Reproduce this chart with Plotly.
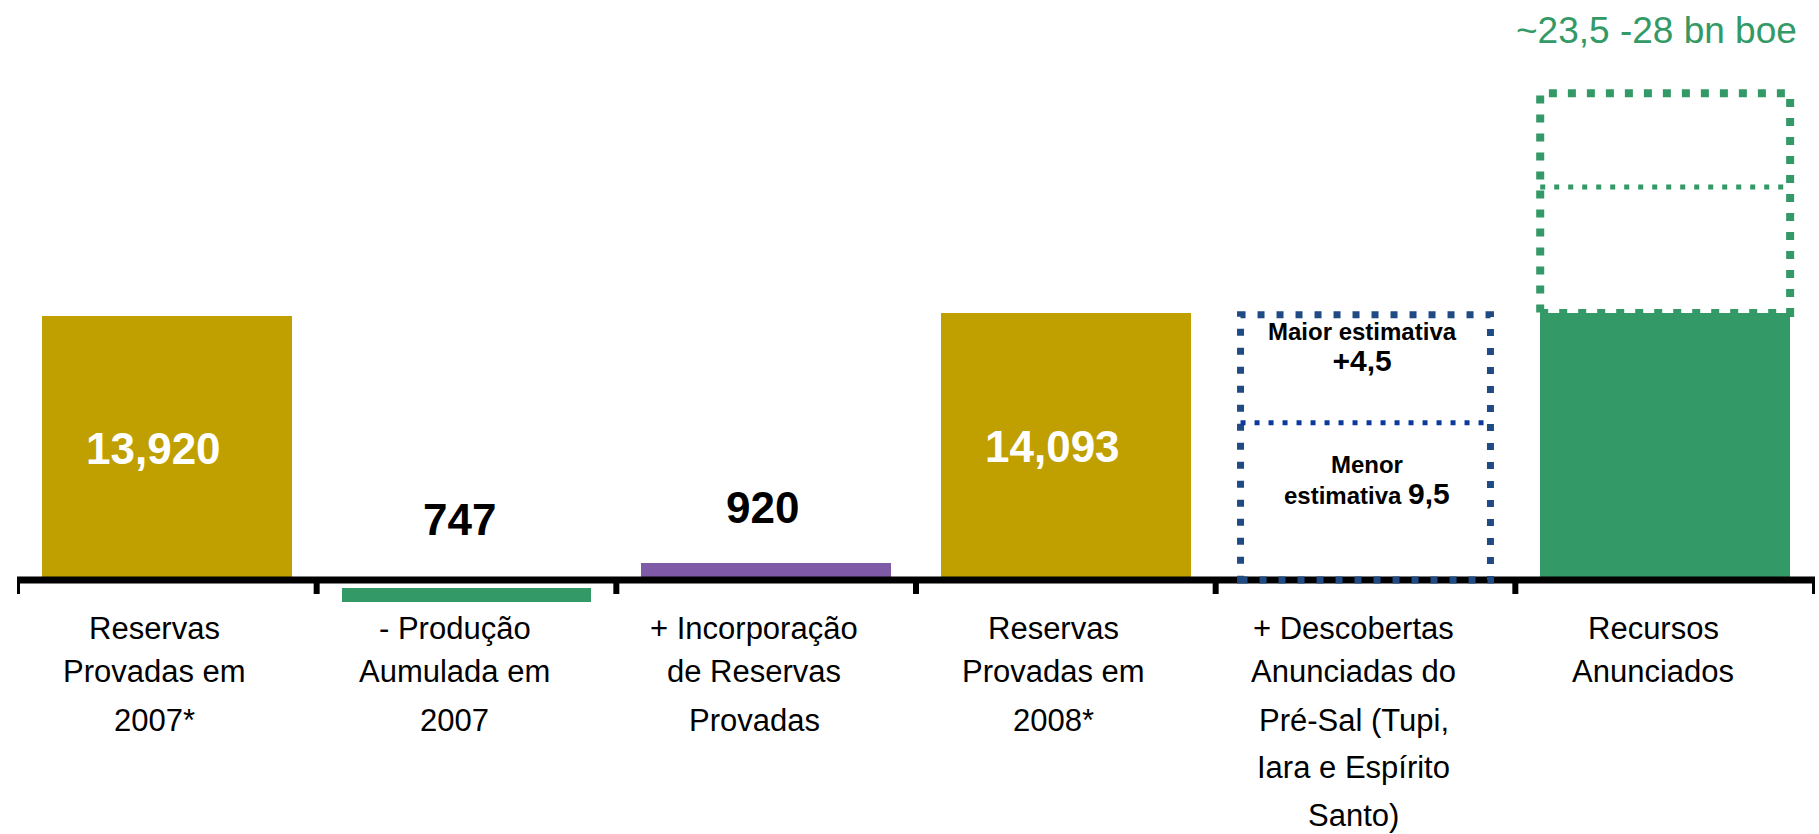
import plotly.graph_objects as go

# ---------------- data ----------------
categories = [
    "Reservas Provadas em 2007*",
    "- Produção Aumulada em 2007",
    "+ Incorporação de Reservas Provadas",
    "Reservas Provadas em 2008*",
    "+ Descobertas Anunciadas do Pré-Sal (Tupi, Iara e Espírito Santo)",
    "Recursos Anunciados",
]
label_lines = [
    ["Reservas", "Provadas em", "2007*"],
    ["- Produção", "Aumulada em", "2007"],
    ["+ Incorporação", "de Reservas", "Provadas"],
    ["Reservas", "Provadas em", "2008*"],
    ["+ Descobertas", "Anunciadas do", "Pré-Sal (Tupi,", "Iara e Espírito", "Santo)"],
    ["Recursos", "Anunciados"],
]
bar_values = [13920, -747, 920, 14093, None, 14093]
bar_labels = ["13,920", "747", "920", "14,093", "", ""]

# dotted outlines (heights, same units as the bars)
presal_low_outline = 8300      # "Menor estimativa 9,5"
presal_high_outline = 14000    # "Maior estimativa +4,5"
resources_mid_outline = 20750
resources_top_outline = 25700

presal_high_text = ["Maior estimativa", "+4,5"]
presal_low_text = ["Menor", "estimativa", "9,5"]
range_text = "~23,5 -28 bn boe"

# ---------------- style ----------------
GOLD = "#BFA000"
GREEN = "#339966"
PURPLE = "#7F5AA6"
NAVY = "#1F4A84"
BLUE = "#0A3A9E"
bar_colors = [GOLD, GREEN, PURPLE, GOLD, None, GREEN]
FONT = "Arial, Liberation Sans, sans-serif"
BAR_W = 0.834
NEG_GAP = 420          # visual gap between axis and the negative bar
W, H = 1819, 834
UNITS_PER_PX = 52.8

idx = [i for i, v in enumerate(bar_values) if v is not None]
xs = idx
ys = [bar_values[i] for i in idx]
bases = [(-NEG_GAP if bar_values[i] < 0 else 0) for i in idx]
cols = [bar_colors[i] for i in idx]

fig = go.Figure()
fig.add_trace(go.Bar(
    x=xs, y=ys, base=bases, width=BAR_W,
    marker=dict(color=cols, line=dict(width=0)),
    hoverinfo="skip",
))

shapes = []
# axis line
shapes.append(dict(type="line", xref="x", yref="y", x0=-0.5, x1=5.52, y0=0, y1=0,
                   line=dict(color="black", width=7)))
# tick marks at category boundaries
for k in range(len(categories) + 1):
    shapes.append(dict(type="line", xref="x", yref="y", ysizemode="pixel", yanchor=0,
                       x0=k - 0.5, x1=k - 0.5, y0=0, y1=-14,
                       line=dict(color="black", width=6)))

# blue dotted box for pre-salt discoveries
bx = 4
shapes.append(dict(type="rect", xref="x", yref="y", x0=bx - BAR_W / 2, x1=bx + BAR_W / 2,
                   y0=0, y1=presal_high_outline,
                   line=dict(color=NAVY, width=7, dash="7px,12px")))
shapes.append(dict(type="line", xref="x", yref="y", x0=bx - BAR_W / 2, x1=bx + BAR_W / 2,
                   y0=presal_low_outline, y1=presal_low_outline,
                   line=dict(color=BLUE, width=5, dash="5px,9px")))

# green dotted range above "Recursos Anunciados"
gx = 5
shapes.append(dict(type="rect", xref="x", yref="y", x0=gx - BAR_W / 2, x1=gx + BAR_W / 2,
                   y0=bar_values[5], y1=resources_top_outline,
                   line=dict(color=GREEN, width=8, dash="8px,11px")))
shapes.append(dict(type="line", xref="x", yref="y", x0=gx - BAR_W / 2, x1=gx + BAR_W / 2,
                   y0=resources_mid_outline, y1=resources_mid_outline,
                   line=dict(color=GREEN, width=5, dash="5px,9px")))

ann = []
# value labels
ann.append(dict(x=0, y=bar_values[0] / 2, text=bar_labels[0], xshift=-13,
                font=dict(family=FONT, size=44, color="white", weight="bold")))
ann.append(dict(x=3, y=bar_values[3] / 2, text=bar_labels[3], xshift=-13,
                font=dict(family=FONT, size=44, color="white", weight="bold")))
ann.append(dict(x=1, y=0, text=bar_labels[1], xshift=-7, yshift=61,
                font=dict(family=FONT, size=44, color="black", weight="bold")))
ann.append(dict(x=2, y=bar_values[2], text=bar_labels[2], xshift=-4, yshift=55,
                font=dict(family=FONT, size=44, color="black", weight="bold")))

# texts in the blue box (two-line blocks)
ann.append(dict(x=bx, y=presal_high_outline,
                text=presal_high_text[0] + "<br><span style='font-size:30px'>"
                + presal_high_text[1] + "</span>",
                xshift=-3, yshift=-33,
                font=dict(family=FONT, size=24, color="black", weight="bold")))
ann.append(dict(x=bx, y=presal_low_outline,
                text=presal_low_text[0] + "<br>" + presal_low_text[1]
                + " <span style='font-size:30px'>" + presal_low_text[2] + "</span>",
                xshift=1, yshift=-58,
                font=dict(family=FONT, size=24, color="black", weight="bold")))

# range text
ann.append(dict(x=gx, y=resources_top_outline, text=range_text, xshift=-9, yshift=63,
                font=dict(family=FONT, size=37, color=GREEN)))

# category labels, line by line
line_centers_px = [48, 91, 140, 187, 235]
for i, lines in enumerate(label_lines):
    for j, t in enumerate(lines):
        ann.append(dict(x=i, y=0, text=t, xshift=-12, yshift=-line_centers_px[j],
                        font=dict(family=FONT, size=31, color="black")))

for a in ann:
    a.update(xref="x", yref="y", showarrow=False, xanchor="center", yanchor="middle")

plot_top, plot_bottom = 0, 620
zero_px = 580
y_hi = (zero_px - plot_top) * UNITS_PER_PX
y_lo = -(plot_bottom - zero_px) * UNITS_PER_PX

fig.update_layout(
    width=W, height=H,
    margin=dict(l=17, r=4, t=plot_top, b=H - plot_bottom, pad=0),
    paper_bgcolor="white", plot_bgcolor="white",
    showlegend=False,
    xaxis=dict(visible=False, range=[-0.5, 5.5], fixedrange=True),
    yaxis=dict(visible=False, range=[y_lo, y_hi], fixedrange=True),
    shapes=shapes, annotations=ann,
    bargap=0,
)

fig.write_html("out.html", post_script="document.body.style.margin='0px';",
               config={"displayModeBar": False})
